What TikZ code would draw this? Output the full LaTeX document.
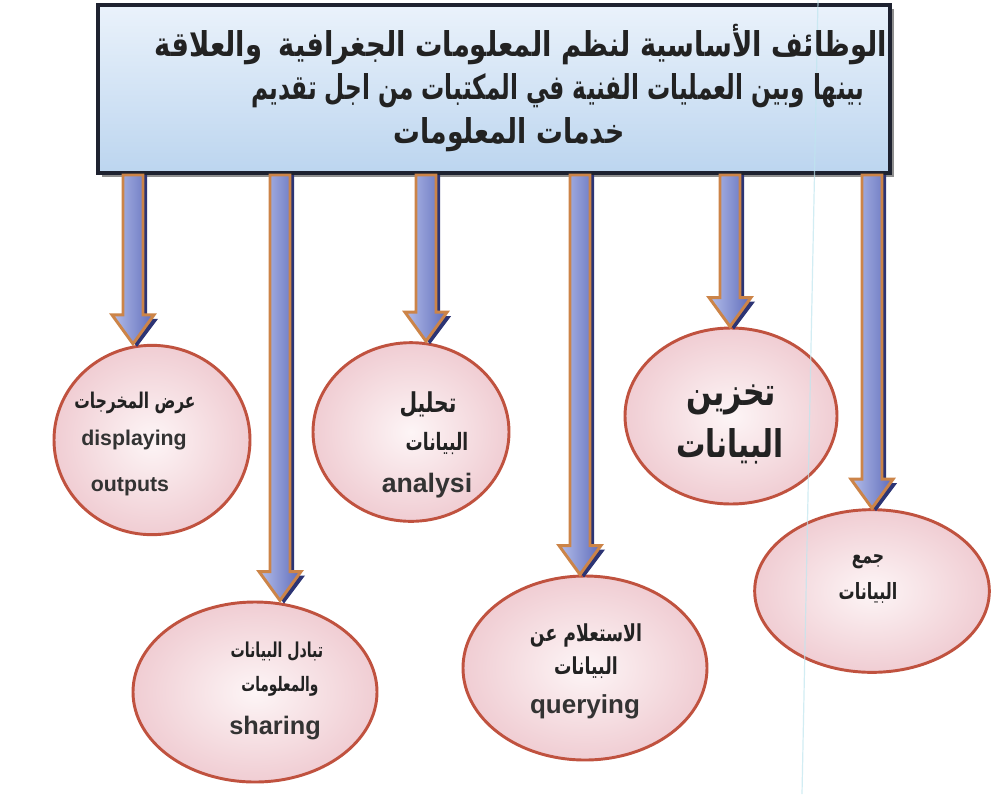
\documentclass[tikz,border=0pt]{standalone}
\usepackage{graphicx}
\usepackage{fontspec}
\setmainfont{Liberation Sans}
\newfontfamily\arabicfont[Script=Arabic]{DejaVu Sans}
\TeXXeTstate=1
\usetikzlibrary{shapes.geometric,shadows,calc}
\definecolor{boxtop}{HTML}{EAF2FB}
\definecolor{boxbot}{HTML}{BCD5EF}
\definecolor{boxline}{HTML}{1E2230}
\definecolor{ellline}{HTML}{C0523F}
\definecolor{ellin}{HTML}{FDF5F6}
\definecolor{ellout}{HTML}{F0CDD3}
\definecolor{arrline}{HTML}{CC8448}
\definecolor{arrL}{HTML}{B4BEEA}
\definecolor{arrM}{HTML}{9AA8E2}
\definecolor{arrR}{HTML}{5E6BBA}
\definecolor{arrshadow}{HTML}{2C3474}
\definecolor{txt}{HTML}{222222}
\definecolor{entxt}{HTML}{333333}
\definecolor{scanline}{HTML}{BFE6EF}
\newcommand{\arf}[1]{\arabicfont\bfseries\fontsize{#1}{#1}\selectfont}
\newcommand{\en}[2]{{\bfseries\fontsize{#1}{#1}\selectfont #2}}
\newcommand{\fatarrow}[2]{%
  \fill[arrshadow] ($(#1)+(-6,0)$) -- ($(#2)+(-6,-25)$) -- ($(#2)+(-17,-25)$) -- ($(#2)+(4,3)$) -- ($(#2)+(25,-25)$) -- ($(#2)+(14,-25)$) -- ($(#1)+(14,0)$) -- cycle;
  \shadedraw[arrowbody] ($(#1)+(-10,0)$) -- ($(#2)+(-10,-29)$) -- ($(#2)+(-21,-29)$) -- (#2) -- ($(#2)+(21,-29)$) -- ($(#2)+(10,-29)$) -- ($(#1)+(10,0)$) -- cycle;
}
\tikzset{
  titlebox/.style={draw=boxline, line width=2.4pt, top color=boxtop, bottom color=boxbot,
    minimum width=594pt, minimum height=126pt, inner sep=0pt,
    drop shadow={shadow xshift=3pt, shadow yshift=-3pt, fill=black!55, opacity=0.8}},
  bubble/.style={ellipse, draw=ellline, line width=2.2pt, inner color=ellin, outer color=ellout, inner sep=0pt},
  lbl/.style={text=txt, inner sep=0pt},
  enlbl/.style={text=entxt, inner sep=0pt},
  arrowbody/.style={draw=arrline, line width=2.2pt, line join=miter, left color=arrL, middle color=arrM, right color=arrR},
}
\begin{document}
\begin{tikzpicture}[x=0.75pt,y=-0.75pt]
\useasboundingbox (0,0) rectangle (992,794);
\fill[white] (0,0) rectangle (992,794);

% title box
\node[titlebox] (title) at (494,89) {};

% ellipses
\node[bubble, minimum width=147pt, minimum height=142pt] (e1) at (152,440) {};
\node[bubble, minimum width=183pt, minimum height=135pt] (e2) at (255,692) {};
\node[bubble, minimum width=147pt, minimum height=134pt] (e3) at (411,432) {};
\node[bubble, minimum width=183pt, minimum height=138pt] (e4) at (585,668) {};
\node[bubble, minimum width=159pt, minimum height=132pt] (e5) at (731,416) {};
\node[bubble, minimum width=176pt, minimum height=122pt] (e6) at (872,591) {};

% faint scan line of the original page
\coordinate (sc1) at (818,0);
\coordinate (sc2) at (802,794);
\draw[scanline, line width=0.9pt, opacity=0.7] (sc1) -- (sc2);

% title text
\node[lbl] (l1) at (521,45) {\scalebox{1.08}[1.35]{\arf{19}\beginR الوظائف الأساسية لنظم المعلومات الجغرافية\hspace{5pt} والعلاقة\endR}};
\node[lbl] (l2) at (558,91) {\scalebox{0.915}[1.35]{\arf{19}\beginR بينها وبين العمليات الفنية في المكتبات من اجل تقديم\endR}};
\node[lbl] (l3) at (509,135) {\scalebox{1.055}[1.35]{\arf{19}\beginR خدمات المعلومات\endR}};

% arrow start points on the box
\coordinate (s1) at (133,175);
\coordinate (s2) at (280,175);
\coordinate (s3) at (426,175);
\coordinate (s4) at (580,175);
\coordinate (s5) at (730,175);
\coordinate (s6) at (872,175);
\coordinate (t1) at (s1 |- e1.north);
\coordinate (t2) at (s2 |- e2.north);
\coordinate (t3) at (s3 |- e3.north);
\coordinate (t4) at (s4 |- e4.north);
\coordinate (t5) at (s5 |- e5.north);
\coordinate (t6) at (s6 |- e6.north);
\fatarrow{s1}{t1}
\fatarrow{s2}{t2}
\fatarrow{s3}{t3}
\fatarrow{s4}{t4}
\fatarrow{s5}{t5}
\fatarrow{s6}{t6}

% labels
\node[lbl] (e1a) at (135,403) {\scalebox{1}[1.4]{\arf{11.6}\beginR عرض المخرجات\endR}};
\node[enlbl] (e1b) at (134,440) {\en{16}{displaying}};
\node[enlbl] (e1c) at (130,487) {\en{16}{outputs}};

\node[lbl] (e2a) at (277,652) {\scalebox{1}[1.45]{\arf{10.6}\beginR تبادل البيانات\endR}};
\node[lbl] (e2b) at (280,686) {\scalebox{1}[1.45]{\arf{10.3}\beginR والمعلومات\endR}};
\node[enlbl] (e2c) at (275,728) {\en{19}{sharing}};

\node[lbl] (e3a) at (428,405) {\scalebox{1}[1.35]{\arf{15.2}\beginR تحليل\endR}};
\node[lbl] (e3b) at (437,443) {\scalebox{1}[1.4]{\arf{12.8}\beginR البيانات\endR}};
\node[enlbl] (e3c) at (427,486) {\en{20}{analysi}};

\node[lbl] (e4a) at (586,635) {\scalebox{1}[1.35]{\arf{13}\beginR الاستعلام عن\endR}};
\node[lbl] (e4b) at (586,668) {\scalebox{1}[1.35]{\arf{13}\beginR البيانات\endR}};
\node[enlbl] (e4c) at (585,707) {\en{19.5}{querying}};

\node[lbl] (e5a) at (731,400) {\scalebox{1}[1.3]{\arf{22.5}\beginR تخزين\endR}};
\node[lbl] (e5b) at (730,446) {\scalebox{1}[1.3]{\arf{22}\beginR البيانات\endR}};

\node[lbl] (e6a) at (868,562) {\scalebox{1}[1.4]{\arf{11.7}\beginR جمع\endR}};
\node[lbl] (e6b) at (868,593) {\scalebox{1}[1.4]{\arf{12}\beginR البيانات\endR}};
\end{tikzpicture}
\end{document}
